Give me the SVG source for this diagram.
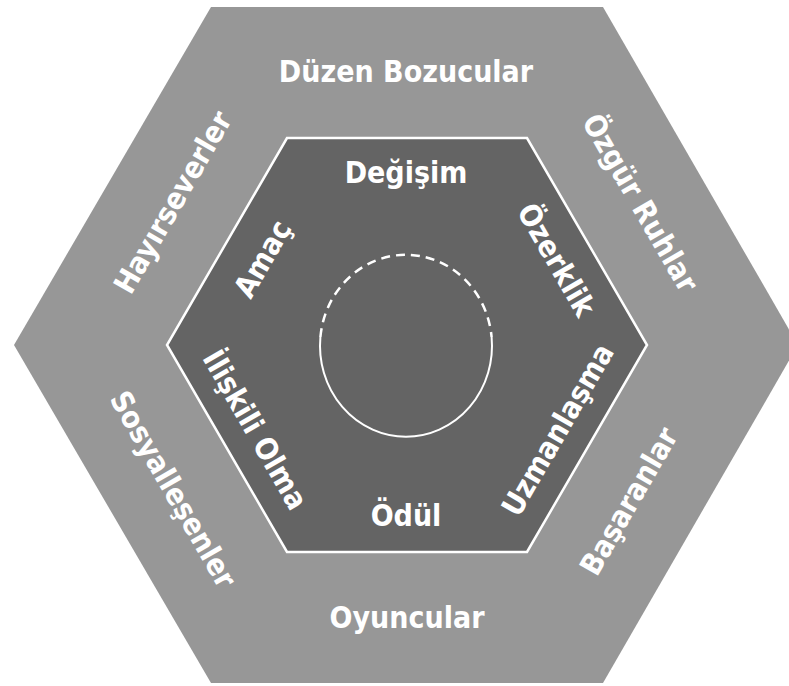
<svg xmlns="http://www.w3.org/2000/svg" width="789" height="686" viewBox="0 0 789 686">
  <style>
    .lbl { font-family: "DejaVu Sans Condensed", "DejaVu Sans", Verdana, sans-serif; font-weight: bold; font-size: 30px; fill: #ffffff; text-anchor: middle; }
    .outer { fill: #979797; }
    .inner { fill: #646464; stroke: #ffffff; stroke-width: 2.5; stroke-linejoin: miter; }
    .ring { fill: none; stroke: #ffffff; stroke-width: 2; }
    .ring-dash { fill: none; stroke: #ffffff; stroke-width: 2.5; stroke-dasharray: 9 6; }
  </style>

  <!-- outer ring of player types -->
  <g id="outer-hexagon">
    <polygon class="outer" points="211,7 603,7 798,345 603,683 211,683 14,345"/>
    <text class="lbl" x="406" y="82">Düzen Bozucular</text>
    <text class="lbl" transform="translate(174,203) rotate(-60)" x="0" y="9">Hayırseverler</text>
    <text class="lbl" transform="translate(640,203) rotate(60)" x="0" y="10">Özgür Ruhlar</text>
    <text class="lbl" transform="translate(172,490) rotate(60)" x="0" y="9">Sosyalleşenler</text>
    <text class="lbl" transform="translate(630,502) rotate(-60)" x="0" y="9">Başaranlar</text>
    <text class="lbl" x="407" y="628">Oyuncular</text>
  </g>

  <!-- inner ring of motivations -->
  <g id="inner-hexagon">
    <polygon class="inner" points="287,138 527,138 647,345 527,552 287,552 167,345"/>
    <text class="lbl" x="406" y="183">Değişim</text>
    <text class="lbl" transform="translate(263,259) rotate(-60)" x="0" y="10">Amaç</text>
    <text class="lbl" transform="translate(556,260) rotate(60)" x="0" y="10">Özerklik</text>
    <text class="lbl" transform="translate(255,430) rotate(60)" x="0" y="10">İlişkili Olma</text>
    <text class="lbl" transform="translate(558,430) rotate(-60)" x="0" y="10">Uzmanlaşma</text>
    <text class="lbl" x="406" y="526">Ödül</text>
  </g>

  <!-- central ring: solid lower arc, dashed upper arc -->
  <g id="center-ring">
    <path class="ring" d="M 320.4 337 A 86 91 0 1 0 491.6 337"/>
    <path class="ring-dash" d="M 320.4 337 A 86 91 0 0 1 491.6 337"/>
  </g>
</svg>
